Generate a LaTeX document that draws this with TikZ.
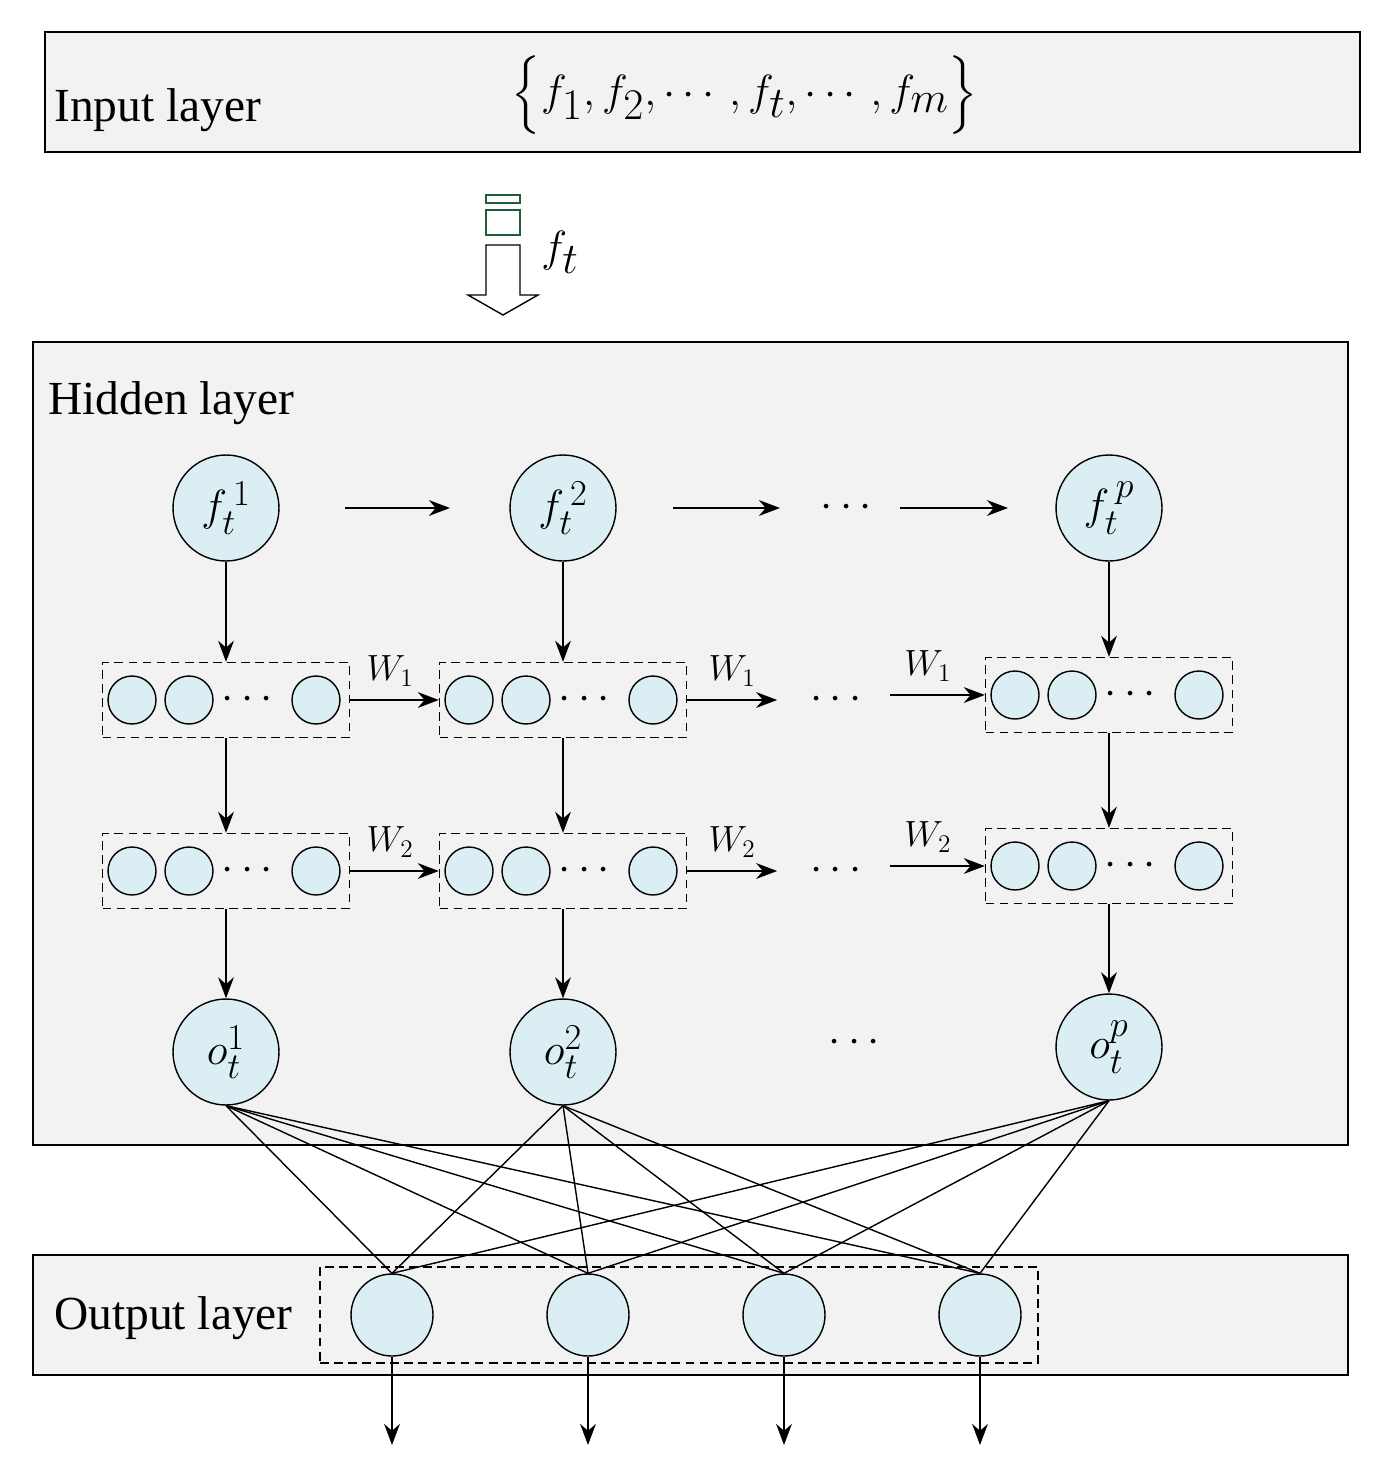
\documentclass[tikz,border=0pt]{standalone}
\usepackage{amsmath}
\usepackage{fontspec}
\setmainfont{Liberation Serif}
\usetikzlibrary{shapes,arrows.meta,positioning}
\definecolor{layergray}{HTML}{F2F2F2}
\definecolor{cellblue}{HTML}{DAEEF3}
\definecolor{boxgreen}{HTML}{1E5C3A}
\begin{document}
\begin{tikzpicture}[x=0.02cm,y=-0.02cm,
          layer/.style={draw=black,thick,fill=layergray},
          bigcell/.style={circle,thick,draw=black,fill=cellblue,minimum size=2.12cm,inner sep=0pt},
          cell/.style={circle,thick,draw=black,fill=cellblue,minimum size=0.96cm,inner sep=0pt},
          outcell/.style={circle,thick,draw=black,fill=cellblue,minimum size=1.64cm,inner sep=0pt},
          group/.style={draw=black,thick,dash pattern=on 5pt off 3pt},
          flow/.style={-{Stealth[length=12pt,width=9pt]},thick},
          txt/.style={font=\fontsize{27}{32}\selectfont},
          wlab/.style={font=\fontsize{20}{24}\selectfont},
        ]
          \useasboundingbox (0,0) rectangle (1396,1484);
          % layers
          \draw[layer] (45,32) rectangle (1360,152);
          \node[txt,anchor=west] (inl) at (48,110) {Input layer};
          \node[font=\fontsize{39}{44}\selectfont] (set) at (745,95)
            {$\Bigl\{f_1,f_2,\cdots,f_t,\cdots,f_m\Bigr\}$};
          \draw[layer] (33,342) rectangle (1348,1145);
          \node[txt,anchor=west] (hidl) at (42,403) {Hidden layer};
          \draw[layer] (33,1255) rectangle (1348,1375);
          \node[txt,anchor=west] (outl) at (48,1318) {Output layer};
          % input vector and hollow arrow
          \draw[boxgreen,very thick] (486,195) rectangle (520,203);
          \draw[boxgreen,very thick] (486,210) rectangle (520,235);
          \draw[thick,fill=white] (486,245) -- (520,245) -- (520,295) -- (538,295)
            -- (503,315) -- (468,295) -- (486,295) -- cycle;
          \node[font=\fontsize{34}{38}\selectfont] (ft) at (560,252) {$f_t$};
          % columns
          \foreach \c/\x/\s/\dy in {1/226/1/0,2/563/2/0,3/1109/p/-5}{
            \node[bigcell,font=\fontsize{32}{36}\selectfont] (f\c) at (\x,508) {$f_t^{\,\s}$};
            \node[group,minimum width=4.94cm,minimum height=1.5cm] (ga\c) at (\x,700+\dy) {};
            \node[group,minimum width=4.94cm,minimum height=1.5cm] (gb\c) at (\x,871+\dy) {};
            \foreach \g in {ga,gb}{
              \node[cell] (\g\c a) at ([xshift=-1.88cm]\g\c.center) {};
              \node[cell] (\g\c b) at ([xshift=-0.74cm]\g\c.center) {};
              \node[cell] (\g\c c) at ([xshift=1.8cm]\g\c.center) {};
              \node[txt] at ([xshift=0.5cm]\g\c.center) {$\cdots$};
            }
            \node[bigcell,font=\fontsize{32}{36}\selectfont] (o\c) at (\x,1052+\dy) {$o_t^{\s}$};
            \draw[flow] (f\c) -- (ga\c);
            \draw[flow] (ga\c) -- (gb\c);
            \draw[flow] (gb\c) -- (o\c);
          }
          % recurrent links
          \draw[flow] (345,508) -- (450,508);
          \draw[flow] (673,508) -- (780,508);
          \node[txt] (d0) at (850,508) {$\cdots$};
          \draw[flow] (900,508) -- (1008,508);
          \node[txt] (d3) at (858,1043) {$\cdots$};
          \foreach \g/\w in {ga/1,gb/2}{
            \draw[flow] (\g1) -- node[above,wlab,pos=0.45,yshift=4pt]{$W_\w$} (\g2);
            \coordinate (\g e) at ([xshift=1.8cm]\g2.east);
            \draw[flow] (\g2) -- node[above,wlab,pos=0.5,yshift=4pt]{$W_\w$} (\g e);
            \node[txt] (\g d) at ([xshift=1.25cm]\g e) {$\cdots$};
            \coordinate (\g s) at ([xshift=-1.9cm]\g3.west);
            \draw[flow] (\g s) -- node[above,wlab,pos=0.4,yshift=4pt]{$W_\w$} (\g3);
          }
          % output layer
          \node[group,minimum width=14.36cm,minimum height=1.92cm] (gout) at (679,1315) {};
          \foreach \k/\x in {1/392,2/588,3/784,4/980}{
            \node[outcell] (y\k) at (\x,1315) {};
            \coordinate (e\k) at (\x,1445);
            \draw[flow] (y\k) -- (e\k);
            \foreach \c in {1,2,3}
              \draw[thick] (o\c.south) -- (y\k.north);
          }
        \end{tikzpicture}
\end{document}
